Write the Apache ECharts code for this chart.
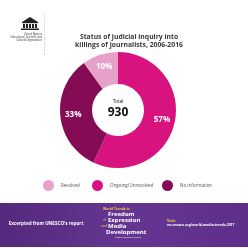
<!DOCTYPE html>
<html>
<head>
<meta charset="utf-8">
<script src="https://cdn.jsdelivr.net/npm/echarts@6/dist/echarts.min.js"></script>
<style>
html, body { margin: 0; padding: 0; background: #fff; }
#main { width: 248px; height: 248px; }
</style>
</head>
<body>
<div id="main"></div>
<script>
var categories = ['Resolved', 'Ongoing/Unresolved', 'No information'];
var shares = [10, 57, 33];
var colors = ['#e7a1c9', '#d8137f', '#850b55'];
var total = 930;

var myChart = echarts.init(document.getElementById('main'));

// clockwise from 12 o'clock: ongoing, no info, resolved
var order = [1, 2, 0];
var pieData = order.map(function (i) {
    return { name: categories[i], value: shares[i], itemStyle: { color: colors[i] } };
});

var legendX = [43, 92, 162];
var legends = categories.map(function (c, i) {
    return {
        data: [c],
        left: legendX[i],
        top: 180,
        icon: 'circle',
        itemWidth: 11,
        itemHeight: 11,
        itemGap: 0,
        padding: 0,
        selectedMode: false,
        textStyle: { fontSize: 4.5, color: '#555', fontFamily: 'Open Sans', padding: [0, 0, 0, 2] }
    };
});

var font = 'Open Sans';
var option = {
    animation: false,
    legend: legends,
    title: {
        text: 'Status of judicial inquiry into\nkillings of journalists, 2006-2016',
        left: 124,
        top: 28,
        textAlign: 'center',
        textStyle: { fontSize: 6.8, fontWeight: 'bold', color: '#3a3a3a', fontFamily: font, lineHeight: 8 }
    },
    series: [{
        type: 'pie',
        center: [118, 110],
        radius: [26, 58],
        startAngle: 90,
        clockwise: true,
        data: pieData,
        label: {
            position: 'inside',
            formatter: '{c}%',
            color: '#fff',
            fontSize: 8,
            fontWeight: 'bold',
            fontFamily: font
        },
        labelLine: { show: false },
        emphasis: { disabled: true }
    }],
    graphic: [
        // center text
        { type: 'text', left: 'center', style: { text: 'Total', x: 118, y: 102, align: 'center', verticalAlign: 'middle', fontSize: 5, fill: '#333', font: '5px Open Sans' }, left: null },
        { type: 'text', style: { text: String(total), x: 118, y: 113, align: 'center', verticalAlign: 'middle', fill: '#111', font: 'bold 12px Open Sans' } },
        // UNESCO logo
        { type: 'group', children: [
            { type: 'polygon', shape: { points: [[22, 22], [30, 17], [38, 22]] }, style: { fill: '#222' } },
            { type: 'rect', shape: { x: 22, y: 22, width: 16, height: 1.2 }, style: { fill: '#222' } },
            { type: 'rect', shape: { x: 23, y: 24, width: 2, height: 4 }, style: { fill: '#222' } },
            { type: 'rect', shape: { x: 26, y: 24, width: 2, height: 4 }, style: { fill: '#222' } },
            { type: 'rect', shape: { x: 29, y: 24, width: 2, height: 4 }, style: { fill: '#222' } },
            { type: 'rect', shape: { x: 32, y: 24, width: 2, height: 4 }, style: { fill: '#222' } },
            { type: 'rect', shape: { x: 35, y: 24, width: 2, height: 4 }, style: { fill: '#222' } },
            { type: 'rect', shape: { x: 21, y: 28.5, width: 18, height: 1.5 }, style: { fill: '#222' } },
            { type: 'text', style: { text: 'United Nations\nEducational, Scientific and\nCultural Organization', x: 42, y: 33, align: 'right', fill: '#333', font: '2.6px Open Sans', lineHeight: 2.8 } },
            { type: 'line', shape: { x1: 44.5, y1: 14, x2: 44.5, y2: 55 }, style: { stroke: '#999', lineWidth: 0.6, lineDash: [1, 1.5] } }
        ] },
        // footer band
        { type: 'rect', shape: { x: 0, y: 203, width: 248, height: 44 }, style: {
            fill: new echarts.graphic.LinearGradient(0, 0, 1, 0, [
                { offset: 0, color: '#55297c' }, { offset: 0.5, color: '#643692' }, { offset: 1, color: '#5e2f8a' }
            ]) } },
        { type: 'text', style: { text: "Excerpted from UNESCO's report", x: 46, y: 224, align: 'center', verticalAlign: 'middle', fill: '#fff', font: 'bold 4.6px Open Sans' } },
        { type: 'text', style: { text: 'World Trends in', x: 103, y: 209, verticalAlign: 'middle', fill: '#f2c94c', font: 'bold 3.4px Open Sans' } },
        { type: 'text', style: { text: 'Freedom', x: 108, y: 214.5, verticalAlign: 'middle', fill: '#fff', font: 'bold 6px Open Sans' } },
        { type: 'text', style: { text: 'of', x: 103, y: 220, verticalAlign: 'middle', fill: '#f2c94c', font: '3.5px Open Sans' } },
        { type: 'text', style: { text: 'Expression', x: 108, y: 220, verticalAlign: 'middle', fill: '#fff', font: 'bold 6px Open Sans' } },
        { type: 'text', style: { text: 'and', x: 101, y: 226, verticalAlign: 'middle', fill: '#f2c94c', font: '3.5px Open Sans' } },
        { type: 'text', style: { text: 'Media', x: 108, y: 226, verticalAlign: 'middle', fill: '#fff', font: 'bold 6px Open Sans' } },
        { type: 'text', style: { text: 'Development', x: 106, y: 232, verticalAlign: 'middle', fill: '#fff', font: 'bold 6px Open Sans' } },
        { type: 'text', style: { text: 'GLOBAL REPORT 2017/2018', x: 115, y: 237.5, verticalAlign: 'middle', fill: '#fff', font: '2px Open Sans' } },
        { type: 'text', style: { text: 'Visit:', x: 167, y: 221, verticalAlign: 'middle', fill: '#f2c94c', font: 'bold 3.6px Open Sans' } },
        { type: 'text', style: { text: 'en.unesco.org/world-media-trends-2017', x: 167, y: 225.5, verticalAlign: 'middle', fill: '#fff', font: 'bold 3.4px Open Sans' } }
    ]
};

myChart.setOption(option);
</script>
</body>
</html>
